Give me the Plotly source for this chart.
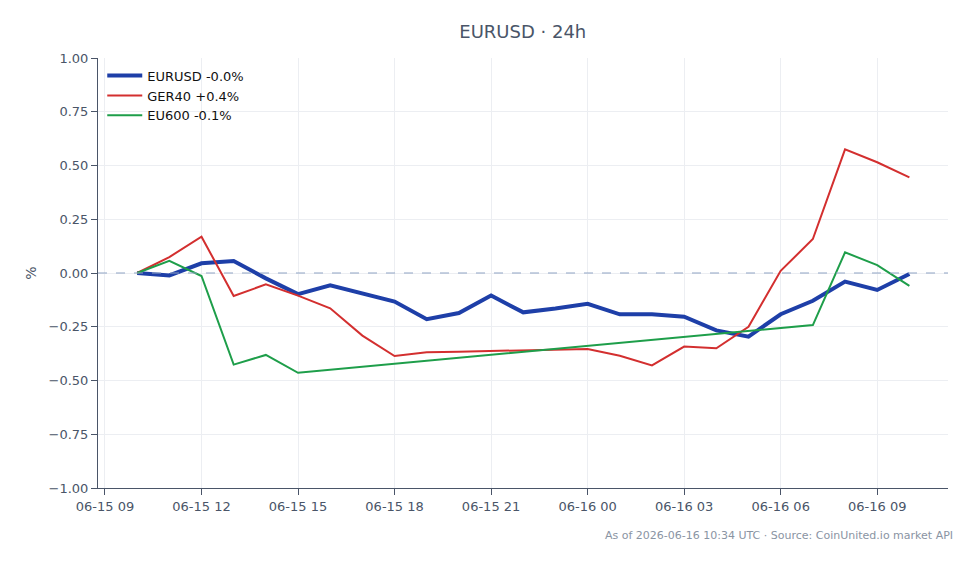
import plotly.graph_objects as go
import pandas as pd

hours = pd.date_range("2026-06-15 10:00", "2026-06-16 10:00", freq="h")

eurusd = [0.0, -0.011, 0.045, 0.056, -0.025, -0.098, -0.057, -0.095, -0.133, -0.215,
          -0.186, -0.105, -0.183, -0.165, -0.143, -0.192, -0.192, -0.203, -0.267, -0.296,
          -0.192, -0.129, -0.040, -0.079, -0.005]
ger40 = [0.0, 0.074, 0.169, -0.107, -0.053, -0.105, -0.164, -0.291, -0.386, -0.369,
         -0.366, -0.363, -0.360, -0.357, -0.353, -0.385, -0.430, -0.342, -0.350, -0.250,
         0.010, 0.158, 0.575, 0.515, 0.445]
eu600_times = ["2026-06-15 10:00", "2026-06-15 11:00", "2026-06-15 12:00", "2026-06-15 13:00",
               "2026-06-15 14:00", "2026-06-15 15:00", "2026-06-16 07:00", "2026-06-16 08:00",
               "2026-06-16 09:00", "2026-06-16 10:00"]
eu600 = [0.0, 0.057, -0.014, -0.426, -0.381, -0.464, -0.242, 0.096, 0.037, -0.060]

tick_vals = pd.date_range("2026-06-15 09:00", "2026-06-16 09:00", freq="3h")
tick_text = [t.strftime("%m-%d %H") for t in tick_vals]
y_ticks = [-1.0, -0.75, -0.5, -0.25, 0.0, 0.25, 0.5, 0.75, 1.0]

axis_col = "#4a5568"
grid_col = "#eceef2"

fig = go.Figure()
fig.add_trace(go.Scatter(x=hours, y=eurusd, mode="lines", name="EURUSD -0.0%",
                         line=dict(color="#1e3fa8", width=4)))
fig.add_trace(go.Scatter(x=hours, y=ger40, mode="lines", name="GER40 +0.4%",
                         line=dict(color="#d32f2f", width=2)))
fig.add_trace(go.Scatter(x=pd.to_datetime(eu600_times), y=eu600, mode="lines", name="EU600 -0.1%",
                         line=dict(color="#1e9e4a", width=2)))

fig.add_shape(type="line", xref="paper", yref="y", x0=0, x1=1, y0=0, y1=0,
              line=dict(color="#8fa3c3", width=1, dash="dash"))

fig.update_layout(
    width=979, height=564,
    margin=dict(l=98, r=31, t=58, b=76),
    paper_bgcolor="white", plot_bgcolor="white",
    font=dict(family="DejaVu Sans", size=13, color=axis_col),
    title=dict(text="EURUSD · 24h", x=0.534, xanchor="center", y=0.943, yanchor="middle",
               font=dict(size=18, color=axis_col)),
    showlegend=True,
    legend=dict(x=0.005, y=0.994, xanchor="left", yanchor="top", bgcolor="rgba(255,255,255,0)",
                itemwidth=35, font=dict(size=13, color="#111111")),
    xaxis=dict(range=["2026-06-15 08:47", "2026-06-16 11:12"], tickvals=tick_vals, ticktext=tick_text,
               showline=True, linecolor=axis_col, linewidth=1, ticks="outside", ticklen=6,
               tickcolor=axis_col, showgrid=True, gridcolor=grid_col, zeroline=False,
               tickfont=dict(size=13, color=axis_col)),
    yaxis=dict(range=[-1, 1], tickvals=y_ticks, tickformat=".2f",
               showline=True, linecolor=axis_col, linewidth=1, ticks="outside", ticklen=6,
               tickcolor=axis_col, showgrid=True, gridcolor=grid_col, zeroline=False,
               title=dict(text="%", standoff=8, font=dict(size=14, color=axis_col)),
               tickfont=dict(size=13, color=axis_col)),
)

fig.add_annotation(text="As of 2026-06-16 10:34 UTC · Source: CoinUnited.io market API",
                   xref="paper", yref="paper", x=1.008, y=-0.090, xanchor="right", yanchor="top",
                   showarrow=False, font=dict(size=11, color="#8a94a3"))

fig.write_html("out.html")
